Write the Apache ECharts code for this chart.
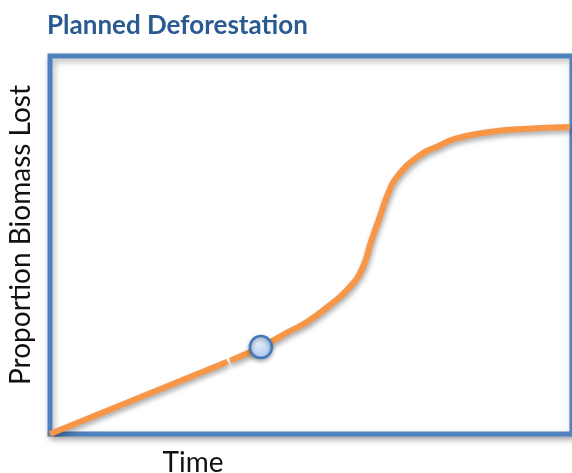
<!DOCTYPE html>
<html>
<head>
<meta charset="utf-8">
<script src="https://cdn.jsdelivr.net/npm/echarts@6/dist/echarts.min.js"></script>
<style>
html,body{margin:0;padding:0;background:#fff;}
#chart{width:572px;height:473px;}
</style>
</head>
<body>
<div id="chart"></div>
<script>
// Data (axis units 0-100, no tick labels shown)
var titleText = "Planned Deforestation";
var yAxisLabel = "Proportion Biomass Lost";
var xAxisLabel = "Time";
// straight early segment (before the small break)
var earlyX = [0, 34.0];
var earlyY = [0, 19.1];
// curve after the break
var curveX = [34.5, 40.4, 45.5, 49.2, 53.6, 56.9, 59.7, 61.6, 63.2, 64.8, 66.6, 70.9, 74.1, 78.0, 84.3, 90.6, 99.6];
var curveY = [19.4, 23.0, 26.9, 29.6, 34.1, 38.1, 43.4, 51.3, 57.5, 63.7, 68.3, 73.8, 76.0, 78.3, 79.9, 80.7, 81.2];
// highlighted point
var pointX = [40.4];
var pointY = [23.0];

function zip(a, b){ return a.map(function(v,i){ return [v, b[i]]; }); }

var chart = echarts.init(document.getElementById('chart'), null, {renderer:'canvas'});
var lineStyle = {
  color:'#F79646', width:6,
  shadowColor:'rgba(0,0,0,0.35)', shadowBlur:5, shadowOffsetX:1, shadowOffsetY:3
};
chart.setOption({
  animation:false,
  backgroundColor:'#ffffff',
  grid:{
    left:50, top:56, width:522, height:378,
    show:true, borderColor:'#4F81BD', borderWidth:5, backgroundColor:'#ffffff',
    shadowColor:'rgba(0,0,0,0.3)', shadowBlur:6, shadowOffsetY:3, shadowOffsetX:2
  },
  xAxis:{type:'value', min:0, max:100, axisLine:{show:false}, axisTick:{show:false}, axisLabel:{show:false}, splitLine:{show:false}},
  yAxis:{type:'value', min:0, max:100, axisLine:{show:false}, axisTick:{show:false}, axisLabel:{show:false}, splitLine:{show:false}},
  graphic:[
    {type:'text', x:47, y:26, style:{text:titleText, fill:'#2A5A91', font:'bold 26px Lato', align:'left', verticalAlign:'middle'}},
    {type:'text', x:21, y:235, rotation:Math.PI/2, style:{text:yAxisLabel, fill:'#111', font:'28px Lato', align:'center', verticalAlign:'middle'}},
    {type:'text', x:193, y:463, style:{text:xAxisLabel, fill:'#111', font:'28px Lato', align:'center', verticalAlign:'middle'}}
  ],
  series:[
    {type:'line', data:zip(earlyX, earlyY), showSymbol:false, symbol:'none', lineStyle:lineStyle, z:2},
    {type:'line', data:zip(curveX, curveY), showSymbol:false, symbol:'none', smooth:0.5, lineStyle:lineStyle, z:2},
    {type:'scatter', data:zip(pointX, pointY), symbolSize:22, z:5,
      itemStyle:{
        opacity:1,
        color:{type:'radial', x:0.4, y:0.35, r:0.7, colorStops:[{offset:0,color:'#E4EDFB'},{offset:1,color:'#A9C5EE'}]},
        borderColor:'#4477B8', borderWidth:2.5,
        shadowColor:'rgba(0,0,0,0.3)', shadowBlur:4, shadowOffsetY:2
      }}
  ]
});
</script>
</body>
</html>
